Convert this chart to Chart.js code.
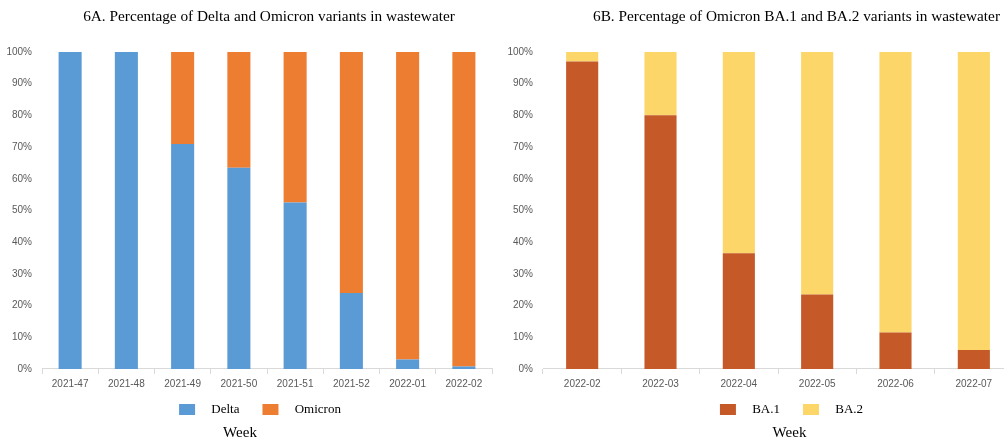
<!DOCTYPE html>
<html>
<head>
<meta charset="utf-8">
<script src="https://cdn.jsdelivr.net/npm/chart.js@4"></script>
<style>
  html, body { margin: 0; padding: 0; background: #fff; overflow: hidden; }
  #wrapA { position: absolute; left: 0; top: 0; width: 500px; height: 441px; }
  #wrapB { position: absolute; left: 500px; top: 0; width: 513px; height: 441px; }
</style>
</head>
<body>
<div id="wrapA"><canvas id="chartA"></canvas></div>
<div id="wrapB"><canvas id="chartB"></canvas></div>
<script>
// Datos 6A
const weeksA = ["2021-47", "2021-48", "2021-49", "2021-50", "2021-51", "2021-52", "2022-01", "2022-02"];
const delta = [100, 100, 71, 63.5, 52.5, 24, 3, 0.8];
const omicron = [0, 0, 29, 36.5, 47.5, 76, 97, 99.2];

// Datos 6B
const weeksB = ["2022-02", "2022-03", "2022-04", "2022-05", "2022-06", "2022-07"];
const ba1 = [97, 80, 36.5, 23.5, 11.5, 6];
const ba2 = [3, 20, 63.5, 76.5, 88.5, 94];

const tickColor = "#595959";
const tickFont = { family: "Liberation Sans", size: 10 };
const serif = "Liberation Serif";

// mueve titulo, leyenda y "Week" en horizontal
const nudgePlugin = {
  id: "nudge",
  afterLayout(chart, args, opts) {
    const move = (box, dx) => {
      if (box && dx) { box.left += dx; box.right += dx; }
    };
    move(chart.titleBlock, opts.title);
    move(chart.legend, opts.legend);
    chart.boxes.forEach((b) => {
      if (b !== chart.titleBlock && b !== chart.legend && b.options && b.options.text === "Week") {
        move(b, opts.subtitle);
      }
    });
  },
};

function makeChart(id, labels, sets, title, yWidth, padRight, nudge) {
  const ctx = document.getElementById(id).getContext("2d");
  return new Chart(ctx, {
    type: "bar",
    data: {
      labels: labels,
      datasets: sets.map((s) => ({
        label: s.label,
        data: s.data,
        backgroundColor: s.color,
        borderWidth: 0,
        categoryPercentage: 0.41,
        barPercentage: 1,
      })),
    },
    plugins: [nudgePlugin],
    options: {
      responsive: true,
      maintainAspectRatio: false,
      animation: false,
      layout: { padding: { left: 0, right: padRight, top: 0, bottom: 0 } },
      scales: {
        x: {
          stacked: true,
          grid: { display: true, drawOnChartArea: false, tickLength: 5, color: "#d9d9d9", offset: true },
          border: { display: true, color: "#d9d9d9" },
          ticks: { padding: 4, color: tickColor, font: tickFont, maxRotation: 0, autoSkip: false },
          afterFit: (s) => { s.height = 24; },
        },
        y: {
          stacked: true,
          min: 0,
          max: 100,
          grid: { display: false, drawTicks: false },
          border: { display: false },
          ticks: {
            stepSize: 10,
            padding: 10,
            color: tickColor,
            font: tickFont,
            callback: (v) => v + "%",
          },
          afterFit: (s) => { s.width = yWidth; },
        },
      },
      plugins: {
        title: {
          display: true,
          text: title,
          color: "#000",
          font: { family: serif, size: 15.3, weight: "normal", lineHeight: 1.2 },
          padding: { top: 7.5, bottom: 26.1 },
        },
        subtitle: {
          display: true,
          position: "bottom",
          text: "Week",
          color: "#000",
          font: { family: serif, size: 15, lineHeight: 1 },
          padding: { top: 0, bottom: 0 },
        },
        legend: {
          position: "bottom",
          labels: {
            color: "#000",
            font: { family: serif, size: 13 },
            boxWidth: 16,
            boxHeight: 11,
            padding: 10,
            generateLabels: (chart) => {
              const items = Chart.defaults.plugins.legend.labels.generateLabels(chart);
              items.forEach((it, i) => {
                it.text = "   " + it.text + (i < items.length - 1 ? "    " : "");
              });
              return items;
            },
          },
        },
        tooltip: { enabled: false },
        nudge: nudge,
      },
    },
  });
}

makeChart(
  "chartA",
  weeksA,
  [
    { label: "Delta", data: delta, color: "#5b9bd5" },
    { label: "Omicron", data: omicron, color: "#ed7d31" },
  ],
  "6A. Percentage of Delta and Omicron variants in wastewater",
  42,
  8,
  { title: 23, legend: 14, subtitle: -6 }
);

makeChart(
  "chartB",
  weeksB,
  [
    { label: "BA.1", data: ba1, color: "#c55a28" },
    { label: "BA.2", data: ba2, color: "#fcd669" },
  ],
  "6B. Percentage of Omicron BA.1 and BA.2 variants in wastewater",
  43,
  0,
  { title: 40, legend: 35, subtitle: 33 }
);
</script>
</body>
</html>
